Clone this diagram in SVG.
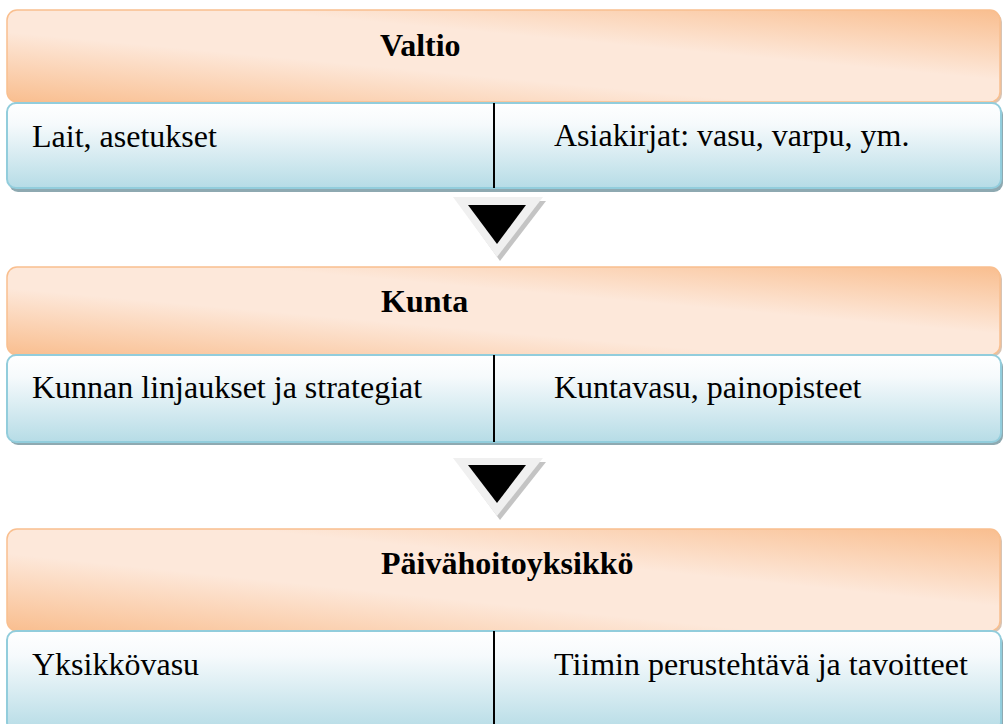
<svg xmlns="http://www.w3.org/2000/svg" width="1003" height="724" viewBox="0 0 1003 724">
<defs>
<linearGradient id="og" x1="1" y1="0" x2="0" y2="1">
<stop offset="0" stop-color="#f9be8f"/>
<stop offset="0.38" stop-color="#fde8da"/>
<stop offset="0.62" stop-color="#fde8da"/>
<stop offset="1" stop-color="#f9be8f"/>
</linearGradient>
<linearGradient id="bg" x1="0" y1="0" x2="0" y2="1">
<stop offset="0" stop-color="#ffffff"/>
<stop offset="0.25" stop-color="#f6fafc"/>
<stop offset="1" stop-color="#b6dce6"/>
</linearGradient>
</defs>
<style>
.hdr{fill:url(#og);stroke:#f9bf8f;stroke-width:1.5}
.hsh{fill:#d8c4b4}
.box{fill:url(#bg);stroke:#92cddc;stroke-width:2}
.bsh{fill:#8ea9b1}
.div{stroke:#000;stroke-width:2}
.t{font-size:32px;fill:#000}
.b{font-weight:bold}
.ao{fill:#f0f0f0}
.as{fill:#c4c4c4}
.ai{fill:#000}
</style>
<g id="valtio">
<rect class="hsh" x="9" y="12" width="993" height="92" rx="10"/>
<rect class="hdr" x="7" y="10" width="993" height="92" rx="10"/>
<text class="t b" font-family="'Liberation Serif', 'DejaVu Serif', serif" x="380" y="56">Valtio</text>
</g>
<g id="valtio-row">
<rect class="bsh" x="9" y="106" width="994" height="86" rx="9"/>
<rect class="box" x="7" y="103" width="994" height="85" rx="9"/>
<line class="div" x1="494" y1="103" x2="494" y2="188"/>
<text class="t" font-family="'Liberation Serif', 'DejaVu Serif', serif" x="32" y="147">Lait, asetukset</text>
<text class="t" font-family="'Liberation Serif', 'DejaVu Serif', serif" x="554" y="146">Asiakirjat: vasu, varpu, ym.</text>
</g>
<g id="kunta">
<rect class="hsh" x="9" y="269" width="993" height="88" rx="10"/>
<rect class="hdr" x="7" y="267" width="993" height="88" rx="10"/>
<text class="t b" font-family="'Liberation Serif', 'DejaVu Serif', serif" x="381" y="312">Kunta</text>
</g>
<g id="kunta-row">
<rect class="bsh" x="9" y="358" width="994" height="87" rx="9"/>
<rect class="box" x="7" y="355" width="994" height="87" rx="9"/>
<line class="div" x1="494" y1="355" x2="494" y2="442"/>
<text class="t" font-family="'Liberation Serif', 'DejaVu Serif', serif" x="32" y="398">Kunnan linjaukset ja strategiat</text>
<text class="t" font-family="'Liberation Serif', 'DejaVu Serif', serif" x="554" y="398">Kuntavasu, painopisteet</text>
</g>
<g id="paivahoitoyksikko">
<rect class="hsh" x="9" y="531" width="993" height="102" rx="10"/>
<rect class="hdr" x="7" y="529" width="993" height="102" rx="10"/>
<text class="t b" font-family="'Liberation Serif', 'DejaVu Serif', serif" x="381" y="574">Päivähoitoyksikkö</text>
</g>
<g id="paivahoitoyksikko-row">
<rect class="bsh" x="9" y="634" width="994" height="100" rx="9"/>
<rect class="box" x="7" y="631" width="994" height="100" rx="9"/>
<line class="div" x1="494" y1="631" x2="494" y2="724"/>
<text class="t" font-family="'Liberation Serif', 'DejaVu Serif', serif" x="32" y="675">Yksikkövasu</text>
<text class="t" font-family="'Liberation Serif', 'DejaVu Serif', serif" x="554" y="675">Tiimin perustehtävä ja tavoitteet</text>
</g>
<g id="connectors">
<g id="arrow1">
<polygon class="as" points="457,201 546,201 500,261"/>
<polygon class="ao" points="453,197 543,197 497,257"/>
<polygon class="ai" points="468,205 526,205 497,244"/>
</g>
<g id="arrow2">
<polygon class="as" points="457,462 546,462 500,520"/>
<polygon class="ao" points="453,458 543,458 497,516"/>
<polygon class="ai" points="468,465 526,465 497,503"/>
</g>
</g>
</svg>
